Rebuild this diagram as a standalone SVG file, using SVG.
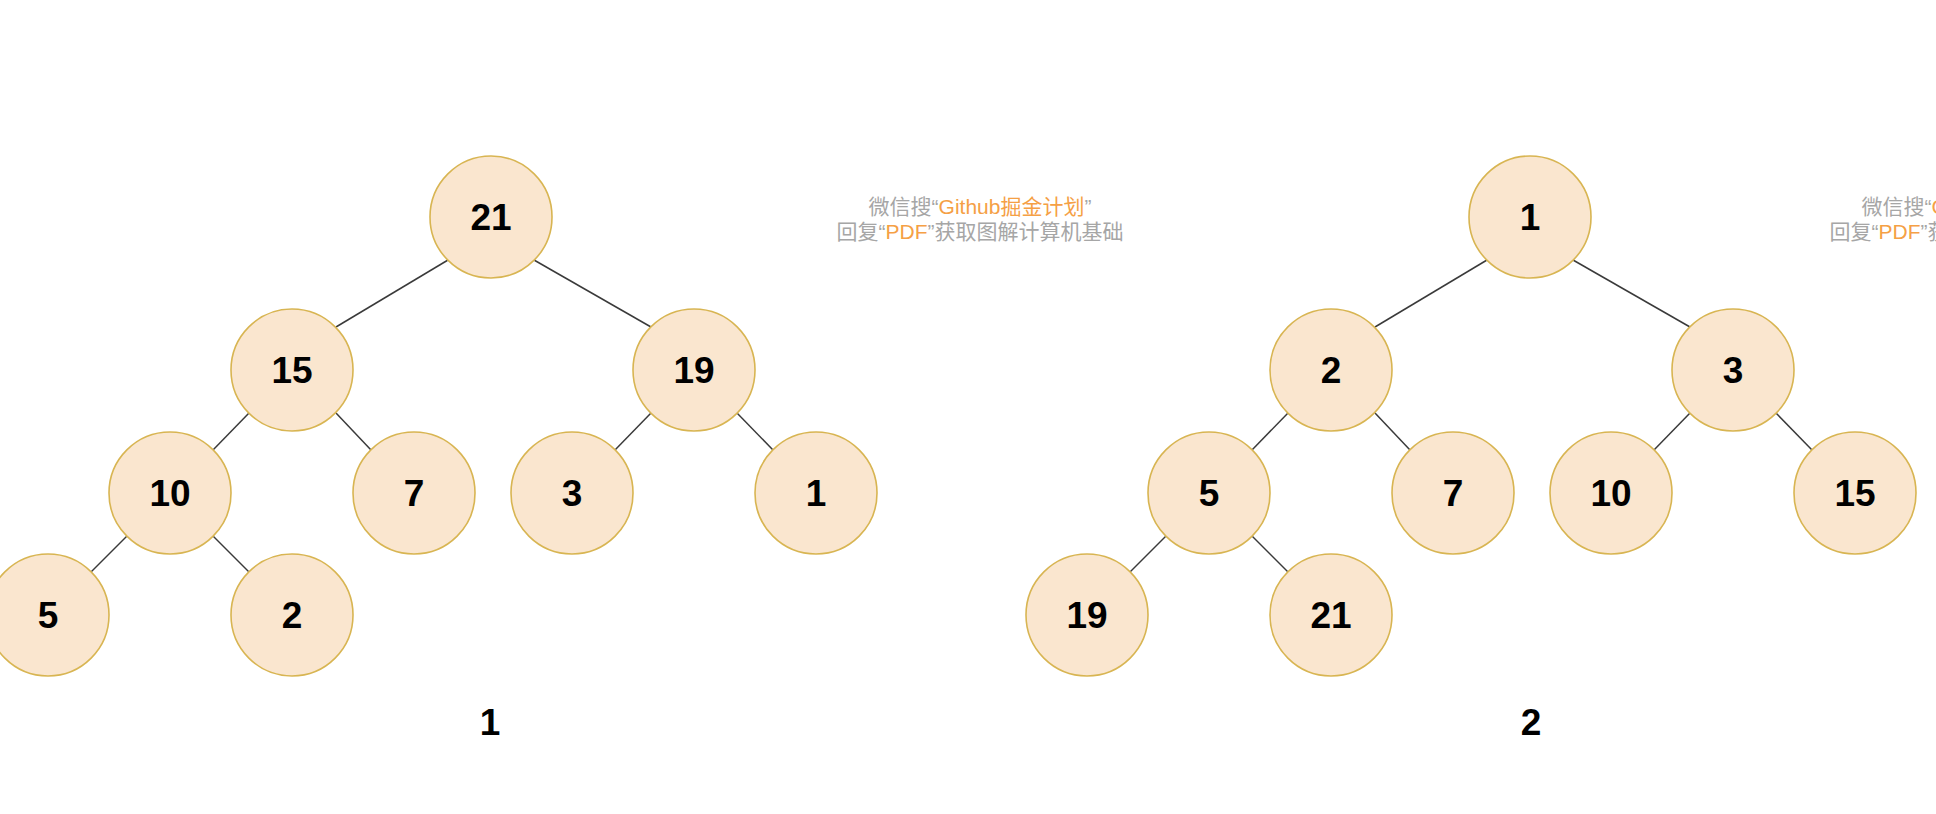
<svg xmlns="http://www.w3.org/2000/svg" width="1936" height="814" viewBox="0 0 1936 814">
<style>
.n circle{fill:#FAE6CF;stroke:#D8B552;stroke-width:1.6}
.n text,.lbl{font-family:"Liberation Sans",Arial,sans-serif;font-weight:bold;font-size:37px;fill:#000;text-anchor:middle}
.e line{stroke:#3A3A3A;stroke-width:1.5}
.wm{font-family:"Liberation Sans","Noto Sans CJK SC",sans-serif;font-size:21px;fill:#A6A6A6;text-anchor:middle}
.wm .o{fill:#F5A045}
</style>
<rect width="1936" height="814" fill="#fff"/>
<g id="connectors" class="e">
<line x1="448" y1="260" x2="336" y2="327"/>
<line x1="534" y1="260" x2="651" y2="327"/>
<line x1="249" y1="413" x2="213" y2="450"/>
<line x1="336" y1="413" x2="371" y2="450"/>
<line x1="651" y1="413" x2="615" y2="450"/>
<line x1="737" y1="413" x2="773" y2="450"/>
<line x1="127" y1="536" x2="91" y2="572"/>
<line x1="213" y1="536" x2="249" y2="572"/>
<line x1="1487" y1="260" x2="1375" y2="327"/>
<line x1="1573" y1="260" x2="1690" y2="327"/>
<line x1="1288" y1="413" x2="1252" y2="450"/>
<line x1="1375" y1="413" x2="1410" y2="450"/>
<line x1="1690" y1="413" x2="1654" y2="450"/>
<line x1="1776" y1="413" x2="1812" y2="450"/>
<line x1="1166" y1="536" x2="1130" y2="572"/>
<line x1="1252" y1="536" x2="1288" y2="572"/>
</g>
<g id="t1-21" class="n"><circle cx="491" cy="217" r="61"/><text x="491" y="230">21</text></g>
<g id="t1-15" class="n"><circle cx="292" cy="370" r="61"/><text x="292" y="383">15</text></g>
<g id="t1-19" class="n"><circle cx="694" cy="370" r="61"/><text x="694" y="383">19</text></g>
<g id="t1-10" class="n"><circle cx="170" cy="493" r="61"/><text x="170" y="506">10</text></g>
<g id="t1-7" class="n"><circle cx="414" cy="493" r="61"/><text x="414" y="506">7</text></g>
<g id="t1-3" class="n"><circle cx="572" cy="493" r="61"/><text x="572" y="506">3</text></g>
<g id="t1-1" class="n"><circle cx="816" cy="493" r="61"/><text x="816" y="506">1</text></g>
<g id="t1-5" class="n"><circle cx="48" cy="615" r="61"/><text x="48" y="628">5</text></g>
<g id="t1-2" class="n"><circle cx="292" cy="615" r="61"/><text x="292" y="628">2</text></g>
<g id="t2-1" class="n"><circle cx="1530" cy="217" r="61"/><text x="1530" y="230">1</text></g>
<g id="t2-2" class="n"><circle cx="1331" cy="370" r="61"/><text x="1331" y="383">2</text></g>
<g id="t2-3" class="n"><circle cx="1733" cy="370" r="61"/><text x="1733" y="383">3</text></g>
<g id="t2-5" class="n"><circle cx="1209" cy="493" r="61"/><text x="1209" y="506">5</text></g>
<g id="t2-7" class="n"><circle cx="1453" cy="493" r="61"/><text x="1453" y="506">7</text></g>
<g id="t2-10" class="n"><circle cx="1611" cy="493" r="61"/><text x="1611" y="506">10</text></g>
<g id="t2-15" class="n"><circle cx="1855" cy="493" r="61"/><text x="1855" y="506">15</text></g>
<g id="t2-19" class="n"><circle cx="1087" cy="615" r="61"/><text x="1087" y="628">19</text></g>
<g id="t2-21" class="n"><circle cx="1331" cy="615" r="61"/><text x="1331" y="628">21</text></g>
<text id="cap1" class="lbl" x="490" y="735">1</text>
<text id="cap2" class="lbl" x="1531" y="735">2</text>
<g id="wm1" class="wm">
<text x="980" y="214">微信搜“<tspan class="o">Github掘金计划</tspan>”</text>
<text x="980" y="239">回复“<tspan class="o">PDF</tspan>”获取图解计算机基础</text>
</g>
<g id="wm2" class="wm">
<text x="1973" y="214">微信搜“<tspan class="o">Github掘金计划</tspan>”</text>
<text x="1973" y="239">回复“<tspan class="o">PDF</tspan>”获取图解计算机基础</text>
</g>
</svg>
